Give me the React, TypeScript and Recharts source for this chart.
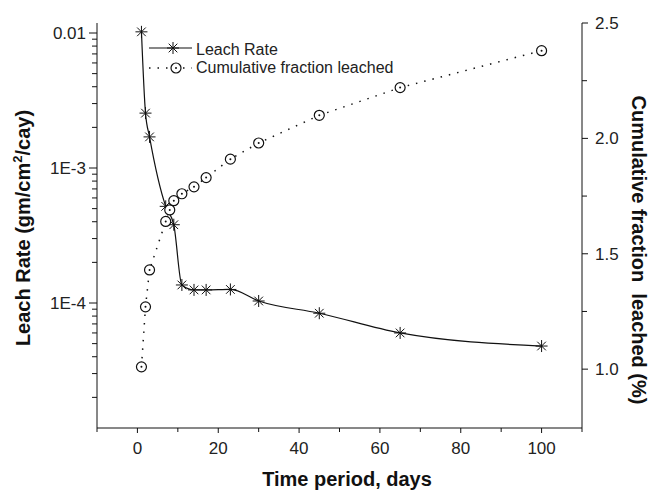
import { ComposedChart, Line, XAxis, YAxis, Legend } from 'recharts';

// time, days
const days = [1, 2, 3, 7, 8, 9, 11, 14, 17, 23, 30, 45, 65, 100];
// gm/cm2/day (no asterisk at day 8)
const leachRate = [
  0.0102, 0.00255, 0.0017, 0.00052, null, 0.00038, 0.000136, 0.000125, 0.000125, 0.000126,
  0.0001035, 0.000084, 0.00006, 0.000048,
];
// cumulative fraction leached, %
const cumulative = [1.01, 1.27, 1.43, 1.64, 1.69, 1.73, 1.76, 1.79, 1.83, 1.91, 1.98, 2.1, 2.22, 2.38];

const xTicks = [-10, 0, 10, 20, 30, 40, 50, 60, 70, 80, 90, 100, 110];
const xLabels = [0, 20, 40, 60, 80, 100];
const leftMajor = [1e-4, 1e-3, 1e-2];
const leftMinor = [2, 3, 4, 5, 6, 7, 8, 9].flatMap((m) => [m * 1e-5, m * 1e-4, m * 1e-3]);
const rightTicks = [1.0, 1.25, 1.5, 1.75, 2.0, 2.25, 2.5];
const rightLabels = [1.0, 1.5, 2.0, 2.5];

const data = days.map((d, i) => ({ day: d, leach: leachRate[i], cum: cumulative[i] }));

const FONT = '"Liberation Sans", Arial, Helvetica, sans-serif';

const leftLabel = (v: number) => (v === 1e-2 ? '0.01' : `1E${Math.round(Math.log10(v))}`);
const isLeftMajor = (v: number) => leftMajor.some((m) => Math.abs(m - v) / m < 1e-6);

function Star({ cx, cy, r = 6 }: { cx: number; cy: number; r?: number }) {
  const d = r * 0.72;
  return (
    <g stroke="#111" strokeWidth={1}>
      <line x1={cx - r} y1={cy} x2={cx + r} y2={cy} />
      <line x1={cx} y1={cy - r} x2={cx} y2={cy + r} />
      <line x1={cx - d} y1={cy - d} x2={cx + d} y2={cy + d} />
      <line x1={cx - d} y1={cy + d} x2={cx + d} y2={cy - d} />
    </g>
  );
}

function Ring({ cx, cy }: { cx: number; cy: number }) {
  return (
    <g>
      <circle cx={cx} cy={cy} r={5} fill="#fff" stroke="#111" strokeWidth={1.2} />
      <circle cx={cx} cy={cy} r={1} fill="#111" />
    </g>
  );
}

const starDot = (props: any) => {
  const { cx, cy, index } = props;
  if (cx == null || cy == null || props.value == null) return <g key={`s-${index}`} />;
  return <Star key={`s-${index}`} cx={cx} cy={cy} />;
};

const ringDot = (props: any) => {
  const { cx, cy, index } = props;
  if (cx == null || cy == null) return <g key={`r-${index}`} />;
  return <Ring key={`r-${index}`} cx={cx} cy={cy} />;
};

function BottomTick({ x, y, payload }: any) {
  const major = xLabels.includes(payload.value);
  return (
    <g>
      <line x1={x} y1={y} x2={x} y2={y + (major ? 5 : 4)} stroke="#111" />
      {major && (
        <text x={x} y={y + 26} textAnchor="middle" fontSize={17} fontFamily={FONT} fill="#222">
          {payload.value}
        </text>
      )}
    </g>
  );
}

function TopTick({ x, y, payload }: any) {
  const major = xLabels.includes(payload.value);
  return <line x1={x} y1={y} x2={x} y2={y + (major ? 5 : 4)} stroke="#111" />;
}

function LeftTick({ x, y, payload }: any) {
  const major = isLeftMajor(payload.value);
  return (
    <g>
      <line x1={x - (major ? 8 : 5)} y1={y} x2={x} y2={y} stroke="#111" />
      {major && (
        <text x={x - 11} y={y + 6} textAnchor="end" fontSize={17} fontFamily={FONT} fill="#222">
          {leftLabel(payload.value)}
        </text>
      )}
    </g>
  );
}

function RightTick({ x, y, payload }: any) {
  const major = rightLabels.includes(payload.value);
  return (
    <g>
      <line x1={x} y1={y} x2={x + (major ? 6 : 5)} y2={y} stroke="#111" />
      {major && (
        <text x={x + 13} y={y + 6} textAnchor="start" fontSize={17} fontFamily={FONT} fill="#222">
          {payload.value.toFixed(1)}
        </text>
      )}
    </g>
  );
}

function LegendBox() {
  return (
    <svg width={280} height={44} style={{ display: 'block' }}>
      <g fontFamily={FONT} fontSize={16} fill="#222">
        <line x1={4} y1={12} x2={47} y2={12} stroke="#111" strokeWidth={1.2} />
        <Star cx={28} cy={12} />
        <text x={51} y={19}>Leach Rate</text>
        <line x1={4} y1={32} x2={47} y2={32} stroke="#111" strokeWidth={1.5} strokeDasharray="1.5 7" />
        <Ring cx={31} cy={32} />
        <text x={51} y={37}>Cumulative fraction leached</text>
      </g>
    </svg>
  );
}

function TitleX() {
  return (
    <text x={347} y={486} textAnchor="middle" fontSize={20} fontWeight="bold" fontFamily={FONT} fill="#111">
      Time period, days
    </text>
  );
}

function TitleLeft() {
  return (
    <text
      x={30}
      y={228}
      transform="rotate(-90 30 228)"
      textAnchor="middle"
      fontSize={20}
      fontWeight="bold"
      fontFamily={FONT}
      fill="#111"
    >
      Leach Rate (gm/cm
      <tspan fontSize={13} dy={-8}>2</tspan>
      <tspan dy={8}>/cay)</tspan>
    </text>
  );
}

function TitleRight() {
  return (
    <text
      x={632}
      y={250}
      transform="rotate(90 632 250)"
      textAnchor="middle"
      fontSize={20}
      fontWeight="bold"
      fontFamily={FONT}
      fill="#111"
      style={{ whiteSpace: 'pre' }}
    >
      {'Cumulative fraction  leached (%)'}
    </text>
  );
}

export default function App() {
  return (
    <div style={{ position: 'absolute', left: 0, top: 0, background: '#fff' }}>
      <ComposedChart width={651} height={492} data={data} margin={{ top: 23, right: 0, bottom: 0, left: 0 }}>
        <XAxis
          xAxisId="bottom"
          dataKey="day"
          type="number"
          domain={[-10, 110]}
          ticks={xTicks}
          interval={0}
          height={64}
          tickSize={0}
          tickMargin={0}
          tickLine={false}
          axisLine={{ stroke: '#111' }}
          tick={<BottomTick />}
          label={<TitleX />}
        />
        <XAxis
          xAxisId="top"
          orientation="top"
          dataKey="day"
          type="number"
          domain={[-10, 110]}
          ticks={xTicks}
          interval={0}
          height={0}
          tickSize={0}
          tickMargin={0}
          tickLine={false}
          axisLine={{ stroke: '#111' }}
          tick={<TopTick />}
        />
        <YAxis
          yAxisId="left"
          scale="log"
          type="number"
          domain={[1.186e-5, 0.01186]}
          allowDataOverflow
          ticks={[...leftMajor, ...leftMinor].sort((a, b) => a - b)}
          interval={0}
          width={97}
          tickSize={0}
          tickMargin={0}
          tickLine={false}
          axisLine={{ stroke: '#111' }}
          tick={<LeftTick />}
          label={<TitleLeft />}
        />
        <YAxis
          yAxisId="right"
          orientation="right"
          type="number"
          domain={[0.745, 2.5]}
          allowDataOverflow
          ticks={rightTicks}
          interval={0}
          width={69}
          tickSize={0}
          tickMargin={0}
          tickLine={false}
          axisLine={{ stroke: '#111' }}
          tick={<RightTick />}
          label={<TitleRight />}
        />
        <Legend
          layout="horizontal"
          verticalAlign="middle"
          align="center"
          content={<LegendBox />}
          wrapperStyle={{ left: 145, top: 36, width: 280, height: 44 }}
        />
        <Line
          xAxisId="bottom"
          yAxisId="left"
          dataKey="leach"
          name="Leach Rate"
          type="monotone"
          stroke="#111"
          strokeWidth={1.2}
          connectNulls
          dot={starDot}
          activeDot={false}
          isAnimationActive={false}
        />
        <Line
          xAxisId="bottom"
          yAxisId="right"
          dataKey="cum"
          name="Cumulative fraction leached"
          type="linear"
          stroke="#111"
          strokeWidth={1.5}
          strokeDasharray="1.5 7"
          dot={ringDot}
          activeDot={false}
          isAnimationActive={false}
        />
      </ComposedChart>
    </div>
  );
}
